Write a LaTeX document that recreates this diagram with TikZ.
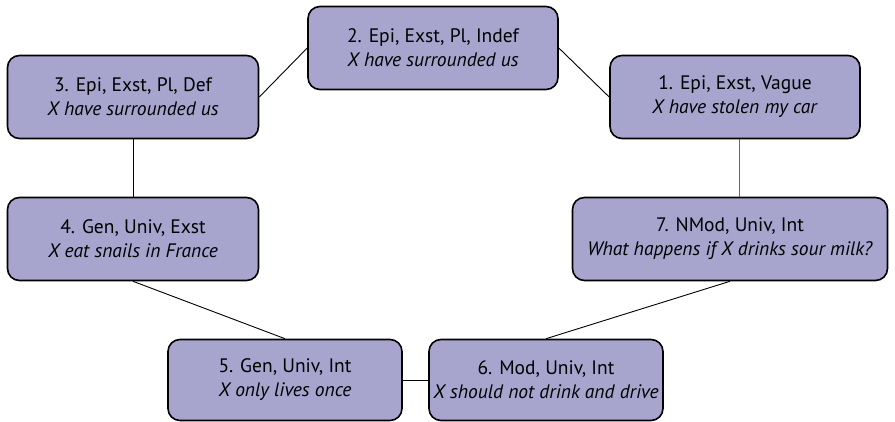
\documentclass[tikz,border=0pt]{standalone}
\usepackage{fontspec}
\setmainfont{PT Sans}
\usepackage{tikz}

\begin{document}
\begin{tikzpicture}[x=1pt,y=-1pt,auto=center,
		stage/.style={draw=black,line width=1.6pt,fill=stagefill,rounded corners=12pt,
			minimum height=83pt,align=center,inner sep=0pt,
			font=\fontsize{19.5}{24}\selectfont},
		link/.style={line width=0.9pt}]
			\definecolor{stagefill}{HTML}{A7A4CE}
			\useasboundingbox (0,0) rectangle (895,422);
			\node[stage,minimum width=250pt] (n2) at (433,48) {2. Epi, Exst, Pl, Indef\\\textit{X have surrounded us}};
			\node[stage,minimum width=251pt] (n3) at (133,97) {3. Epi, Exst, Pl, Def\\\textit{X have surrounded us}};
			\node[stage,minimum width=250pt] (n1) at (735,97) {1. Epi, Exst, Vague\\\textit{X have stolen my car}};
			\node[stage,minimum width=251pt] (n4) at (133,239) {4. Gen, Univ, Exst\\\textit{X eat snails in France}};
			\node[stage,minimum width=315pt] (n7) at (730,239) {7. NMod, Univ, Int\\\textit{What happens if X drinks sour milk?}};
			\node[stage,minimum width=234pt,minimum height=81pt] (n5) at (285,380) {5. Gen, Univ, Int\\\textit{X only lives once}};
			\node[stage,minimum width=234pt,minimum height=81pt] (n6) at (546,380) {6. Mod, Univ, Int\\\textit{X should not drink and drive}};
			\draw[link] (n3.east) -- (n2.west);
			\draw[link] (n2.east) -- (n1.west);
			\draw[link] (n3.south) -- (n4.north);
			\draw[link,black!60] ([xshift=4pt]n1.south) -- ([xshift=4pt]n1.south |- n7.north);
			\draw[link] (n4.south) -- (n5.north);
			\draw[link] (n7.south) -- (n6.north);
			\draw[link] (n5.east) -- (n6.west);
		\end{tikzpicture}
\end{document}
